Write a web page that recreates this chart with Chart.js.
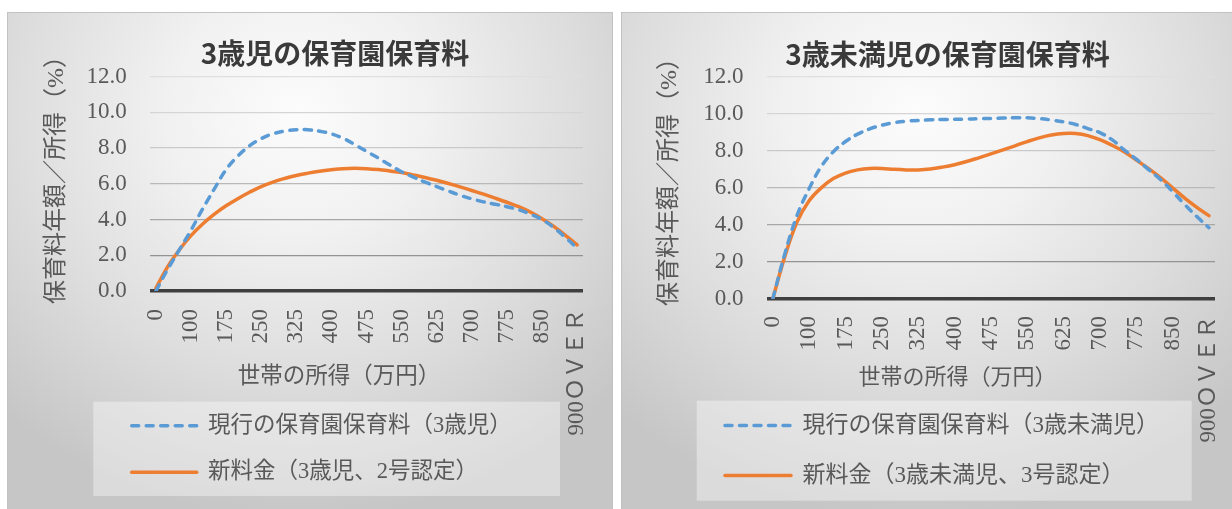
<!DOCTYPE html>
<html lang="ja">
<head>
<meta charset="utf-8">
<title>保育園保育料</title>
<script src="https://cdn.jsdelivr.net/npm/chart.js@4.4.1/dist/chart.umd.min.js"></script>
<style>
  html, body { margin: 0; padding: 0; background: #fff; width: 1232px; height: 509px; overflow: hidden; }
  .panel {
    position: absolute; top: 12px; height: 497px; box-sizing: border-box;
    border: 1px solid #c2c2c2; border-bottom: none;
    background: radial-gradient(ellipse 72% 82% at 48% 20%, #fcfcfc 0%, #f1f1f1 30%, #dddddd 65%, #c6c6c6 100%);
  }
  #p1 { left: 7px; width: 606px; }
  #p2 { left: 621px; width: 620px; }
  canvas { position: absolute; top: 12px; }
  #c1 { left: 7px; }
  #c2 { left: 621px; }
</style>
</head>
<body>
<div class="panel" id="p1"></div>
<div class="panel" id="p2"></div>
<canvas id="c1" width="606" height="497"></canvas>
<canvas id="c2" width="611" height="497"></canvas>
<script>
// 世帯の所得（万円）
const incomeBands = ['0', '50', '75', '100', '125', '150', '175', '200', '225', '250', '275', '300',
  '325', '350', '375', '400', '425', '450', '475', '500', '525', '550', '575', '600', '625', '650',
  '675', '700', '725', '750', '775', '800', '825', '850', '875', '900', '900ＯＶＥＲ'];

// 保育料年額／所得（%） — 3歳児
const age3Current = [0.0, 1.2, 2.3, 3.4, 4.6, 5.72, 6.8, 7.55, 8.13, 8.53, 8.8, 8.95, 9.03, 9.03,
  8.95, 8.8, 8.55, 8.2, 7.82, 7.45, 7.05, 6.68, 6.38, 6.1, 5.85, 5.6, 5.36, 5.16, 4.99, 4.86, 4.72,
  4.55, 4.3, 4.0, 3.55, 3.0, 2.4];
const age3New = [0.15, 1.35, 2.3, 3.1, 3.75, 4.3, 4.77, 5.17, 5.53, 5.85, 6.1, 6.3, 6.47, 6.6,
  6.71, 6.79, 6.85, 6.87, 6.85, 6.8, 6.72, 6.63, 6.5, 6.36, 6.2, 6.02, 5.83, 5.63, 5.42, 5.2, 4.97,
  4.72, 4.42, 4.05, 3.62, 3.12, 2.58];

// 保育料年額／所得（%） — 3歳未満児
const under3Current = [0.0, 2.45, 4.5, 5.95, 7.15, 7.95, 8.5, 8.9, 9.18, 9.38, 9.52, 9.6, 9.64,
  9.67, 9.69, 9.7, 9.71, 9.73, 9.75, 9.77, 9.78, 9.78, 9.74, 9.66, 9.56, 9.42, 9.2, 8.98, 8.6, 8.05,
  7.55, 7.0, 6.45, 5.8, 5.1, 4.45, 3.85];
const under3New = [0.0, 2.3, 4.15, 5.3, 6.0, 6.5, 6.8, 6.97, 7.05, 7.05, 7.0, 6.97, 6.97, 7.02,
  7.12, 7.25, 7.42, 7.62, 7.83, 8.05, 8.27, 8.5, 8.7, 8.85, 8.93, 8.93, 8.82, 8.6, 8.3, 7.95, 7.5,
  7.05, 6.55, 6.0, 5.45, 4.95, 4.5];

// 縦軸の目盛
const yTickValues = [0, 2, 4, 6, 8, 10, 12];

const BLUE = '#5b9bd5';
const ORANGE = '#ed7d31';
const TEXT = '#595959';
const SERIF = '"Liberation Serif", "Noto Sans CJK JP", serif';
const SANS = '"Noto Sans CJK JP", "Noto Sans", sans-serif';

// gridlines get darker towards the base line
const gridShade = { 0: '#3f3f3f', 2: '#939393', 4: '#a7a7a7', 6: '#b9b9b9', 8: '#c9c9c9', 10: '#d5d5d5', 12: '#dfdfdf' };

// Places the title, legend and axis titles where the layout wants them,
// and paints the pale panel behind the legend.
const placement = {
  id: 'placement',
  beforeDraw(chart, args, o) {
    if (!o.legendBox) return;
    const { ctx } = chart;
    const b = o.legendBox;
    ctx.save();
    ctx.fillStyle = o.legendBoxColor;
    ctx.fillRect(b.x, b.y, b.w, b.h);
    ctx.restore();
  },
  afterLayout(chart, args, o) {
    const t = chart.titleBlock;
    if (t && o.titleX != null) {
      const w = t.right - t.left;
      t.left = o.titleX - w / 2;
      t.right = t.left + w;
    }
    const lg = chart.legend;
    if (lg && o.legendAt) {
      const w = lg.width, h = lg.height;
      lg.left = o.legendAt.x; lg.top = o.legendAt.y;
      lg.right = lg.left + w; lg.bottom = lg.top + h;
    }
    for (const id of ['x', 'y']) {
      const sc = chart.scales[id], d = o[id + 'Title'];
      if (!sc || !d) continue;
      sc.drawTitle = function () {
        const c = this.ctx;
        c.save();
        c.translate(d.dx, d.dy);
        Object.getPrototypeOf(this).drawTitle.call(this);
        c.restore();
      };
    }
  }
};

// legend samples drawn with each series' own stroke (dash, width, cap)
function seriesLegendItems(chart) {
  return chart.data.datasets.map((ds, i) => ({
    text: ds.label,
    datasetIndex: i,
    hidden: false,
    fontColor: TEXT,
    fillStyle: ds.borderColor,
    strokeStyle: ds.borderColor,
    lineWidth: ds.borderWidth,
    lineDash: ds.borderDash || [],
    lineCap: ds.borderCapStyle,
    pointStyle: 'line',
    rotation: 0
  }));
}

function buildChart(id, s) {
  return new Chart(document.getElementById(id), {
    type: 'line',
    data: {
      labels: incomeBands,
      datasets: [
        {
          label: s.currentLabel, data: s.current,
          borderColor: BLUE, backgroundColor: BLUE, borderWidth: 3.5,
          borderDash: [7, 7.5], borderCapStyle: 'round',
          pointRadius: 0, tension: 0.4, fill: false
        },
        {
          label: s.newLabel, data: s.fresh,
          borderColor: ORANGE, backgroundColor: ORANGE, borderWidth: 3.5,
          borderCapStyle: 'round',
          pointRadius: 0, tension: 0.4, fill: false
        }
      ]
    },
    options: {
      responsive: false,
      animation: false,
      devicePixelRatio: 1,
      events: [],
      layout: { padding: { left: 0, top: 0, right: s.padRight, bottom: 0 } },
      plugins: {
        title: {
          display: true, text: s.title, color: '#3a3a3a',
          font: { family: SANS, size: 28, weight: 'bold', lineHeight: 1.2 },
          padding: { top: s.titlePadTop, bottom: s.titlePadBottom }
        },
        legend: {
          position: 'chartArea', align: 'start',
          labels: {
            usePointStyle: true, pointStyle: 'line', pointStyleWidth: s.legendLine,
            padding: s.legendGap, color: TEXT,
            font: { family: SERIF, size: s.legendFont },
            generateLabels: seriesLegendItems
          }
        },
        tooltip: { enabled: false },
        placement: {
          titleX: s.titleX,
          legendAt: s.legendAt,
          legendBox: s.legendBox,
          legendBoxColor: 'rgba(255,255,255,0.38)',
          xTitle: s.xTitleShift,
          yTitle: s.yTitleShift
        }
      },
      scales: {
        x: {
          offset: true,
          grid: { display: false, drawTicks: false },
          border: { display: false },
          ticks: {
            autoSkip: false, minRotation: 90, maxRotation: 90,
            padding: s.xTickPad, color: TEXT,
            font: { family: SERIF, size: 23 },
            callback(value, index) { return index % 3 === 0 ? this.getLabelForValue(value) : ''; }
          },
          title: {
            display: true, text: '世帯の所得（万円）', color: TEXT,
            font: { family: SERIF, size: s.xTitleFont },
            padding: { top: 0, bottom: s.xTitlePadBottom }
          },
          afterFit(scale) {
            scale.height = s.xHeight;
            scale.paddingLeft = 0;
            scale.paddingRight = 0;
          }
        },
        y: {
          min: 0, max: 12,
          afterBuildTicks(scale) { scale.ticks = yTickValues.map(v => ({ value: v })); },
          grid: {
            drawTicks: false,
            color: c => gridShade[c.tick.value] || '#cccccc',
            lineWidth: c => (c.tick.value === 0 ? 3.5 : 1.3)
          },
          border: { display: false },
          ticks: {
            padding: 23.3, color: TEXT,
            font: { family: SERIF, size: 23 },
            callback: v => Number(v).toFixed(1)
          },
          title: {
            display: true, text: '保育料年額／所得（%）', color: TEXT,
            font: { family: SERIF, size: 24 },
            padding: { top: s.yTitlePad, bottom: 0 }
          },
          afterFit(scale) { scale.width = s.yWidth; }
        }
      }
    },
    plugins: [placement]
  });
}

buildChart('c1', {
  title: '3歳児の保育園保育料',
  currentLabel: '現行の保育園保育料（3歳児）',
  newLabel: '新料金（3歳児、2号認定）',
  current: age3Current,
  fresh: age3New,
  padRight: 30,
  titlePadTop: 24.5, titlePadBottom: 6.6, titleX: 328,
  yWidth: 143, yTitlePad: 35.3, yTitleShift: { dx: 0, dy: -9.8 },
  xHeight: 218, xTickPad: 18, xTitleFont: 22.5, xTitlePadBottom: 118.2,
  xTitleShift: { dx: -27.5, dy: 0 },
  legendFont: 22.5, legendGap: 24, legendLine: 65,
  legendAt: { x: 100.7, y: 378.4 },
  legendBox: { x: 86.3, y: 389.7, w: 466.7, h: 94.3 }
});

buildChart('c2', {
  title: '3歳未満児の保育園保育料',
  currentLabel: '現行の保育園保育料（3歳未満児）',
  newLabel: '新料金（3歳未満児、3号認定）',
  current: under3Current,
  fresh: under3New,
  padRight: 17,
  titlePadTop: 25.4, titlePadBottom: 5.7, titleX: 326.5,
  yWidth: 145.7, yTitlePad: 34.6, yTitleShift: { dx: 0, dy: -11.8 },
  xHeight: 210, xTickPad: 17, xTitleFont: 22, xTitlePadBottom: 117.5,
  xTitleShift: { dx: -33.3, dy: 0 },
  legendFont: 23, legendGap: 27, legendLine: 66,
  legendAt: { x: 77, y: 375 },
  legendBox: { x: 75.7, y: 388.7, w: 495, h: 100 }
});
</script>
</body>
</html>
